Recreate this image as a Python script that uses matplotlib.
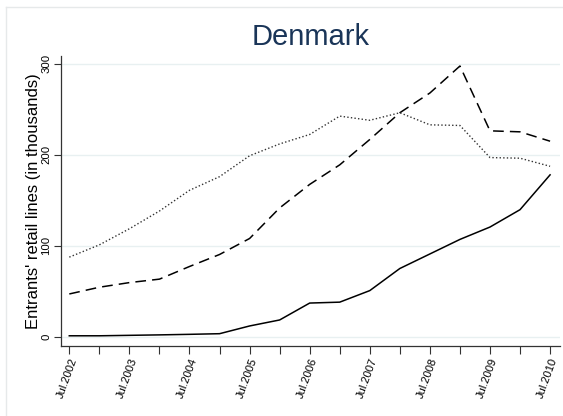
import matplotlib
matplotlib.use("Agg")
import matplotlib.pyplot as plt
from matplotlib.lines import Line2D

plt.rcParams['font.family'] = ['Liberation Sans', 'DejaVu Sans']

periods = ['Jul.2002', 'Jan.2003', 'Jul.2003', 'Jan.2004', 'Jul.2004', 'Jan.2005',
           'Jul.2005', 'Jan.2006', 'Jul.2006', 'Jan.2007', 'Jul.2007', 'Jan.2008',
           'Jul.2008', 'Jan.2009', 'Jul.2009', 'Jan.2010', 'Jul.2010']
solid = [1, 1, 1.5, 2, 2.6, 3.3, 11.8, 18.4, 37, 38, 50.7, 75, 91, 107, 120.6, 139.7, 178]
dashed = [47, 54.4, 59.5, 63.3, 77.2, 90.4, 108, 141.6, 167.5, 189, 216.9, 246.3, 268, 297.7, 226.4, 225.3, 215]
dotted = [87.5, 101, 118.7, 138.2, 161, 176, 199, 212, 222.4, 242.6, 238, 246.3, 233, 232.3, 197, 196.3, 187.4]
yticks = [0, 100, 200, 300]

W, H = 563, 416
fig = plt.figure(figsize=(W / 100, H / 100), dpi=100)
fig.patch.set_facecolor('white')

# outer graph-region border (light)
border = '#e6e9ea'
fig.add_artist(Line2D([6 / W, 6 / W], [1 - 7 / H, 0], transform=fig.transFigure, color=border, lw=1))
fig.add_artist(Line2D([6 / W, 1], [1 - 7 / H, 1 - 7 / H], transform=fig.transFigure, color=border, lw=1))

left, right, top, bottom = 61, 560, 56, 345.7
ax = fig.add_axes([left / W, 1 - bottom / H, (right - left) / W, (bottom - top) / H])

x = list(range(len(periods)))
ax.plot(x, solid, color='black', lw=1.1, linestyle='-')
ax.plot(x, dashed, color='black', lw=1.1, linestyle=(0, (7, 4)))
ax.plot(x, dotted, color='#333333', lw=1.0, linestyle=(0, (1, 1.6)))

ax.set_xlim(-0.276, 16.33)
ax.set_ylim(-9.9, 308.7)

ax.set_yticks(yticks)
ax.set_yticklabels([str(v) for v in yticks], rotation=90, va='center', fontsize=8.2)
ax.set_xticks(x)
ax.set_xticklabels([p if p.startswith('Jul') else '' for p in periods],
                   rotation=70, ha='right', va='top', rotation_mode='anchor', fontsize=8)
ax.tick_params(axis='both', direction='out', length=5, width=0.8, color='#333333', pad=2)
ax.tick_params(axis='x', length=6)

for v in yticks:
    ax.axhline(v, color='#e8f0f1', lw=1.0, zorder=0)

for s in ['top', 'right']:
    ax.spines[s].set_visible(False)
for s in ['left', 'bottom']:
    ax.spines[s].set_color('#333333')
    ax.spines[s].set_linewidth(0.9)

ax.set_ylabel("Entrants' retail lines (in thousands)", fontsize=12, labelpad=0)
fig.text((left + right) / 2 / W, 1 - 37 / H, 'Denmark', ha='center', va='center',
         fontsize=21, color='#1a3558')

fig.savefig('out.png', dpi=100, facecolor='white')
